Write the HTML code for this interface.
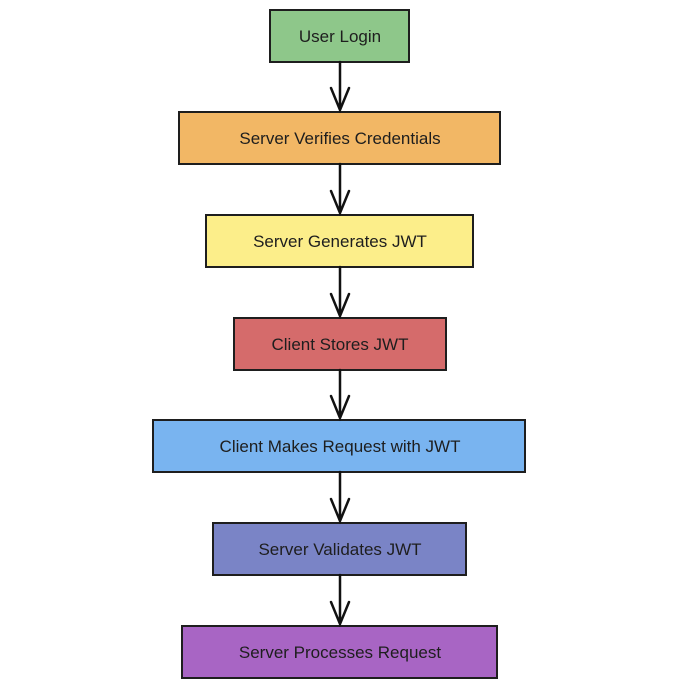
<!DOCTYPE html>
<html><head><style>
html,body{margin:0;padding:0;background:#fff;}
</style></head><body>
<svg width="680" height="688" viewBox="0 0 680 688" xmlns="http://www.w3.org/2000/svg">
<g stroke="#1e1e1e" stroke-width="2">
<rect x="270" y="10" width="139" height="52" fill="#8ec78a"/>
<rect x="179" y="112" width="321" height="52" fill="#f2b765"/>
<rect x="206" y="215" width="267" height="52" fill="#fcee8a"/>
<rect x="234" y="318" width="212" height="52" fill="#d56b6b"/>
<rect x="153" y="420" width="372" height="52" fill="#79b4f0"/>
<rect x="213" y="523" width="253" height="52" fill="#7a84c6"/>
<rect x="182" y="626" width="315" height="52" fill="#a865c4"/>
</g>
<g stroke="#111" stroke-width="2.5" fill="none" stroke-linecap="round">
<path d="M340 62 L340 110 M331 88 L340 110 L349 88"/>
<path d="M340 164 L340 213 M331 191 L340 213 L349 191"/>
<path d="M340 267 L340 316 M331 294 L340 316 L349 294"/>
<path d="M340 370 L340 418 M331 396 L340 418 L349 396"/>
<path d="M340 472 L340 521 M331 499 L340 521 L349 499"/>
<path d="M340 575 L340 624 M331 602 L340 624 L349 602"/>
</g>
<g font-family="'Liberation Sans',sans-serif" font-size="17" fill="#1e1e1e" text-anchor="middle">
<text x="340" y="42">User Login</text>
<text x="340" y="144">Server Verifies Credentials</text>
<text x="340" y="247">Server Generates JWT</text>
<text x="340" y="350">Client Stores JWT</text>
<text x="340" y="452">Client Makes Request with JWT</text>
<text x="340" y="555">Server Validates JWT</text>
<text x="340" y="658">Server Processes Request</text>
</g>
</svg>
</body></html>
